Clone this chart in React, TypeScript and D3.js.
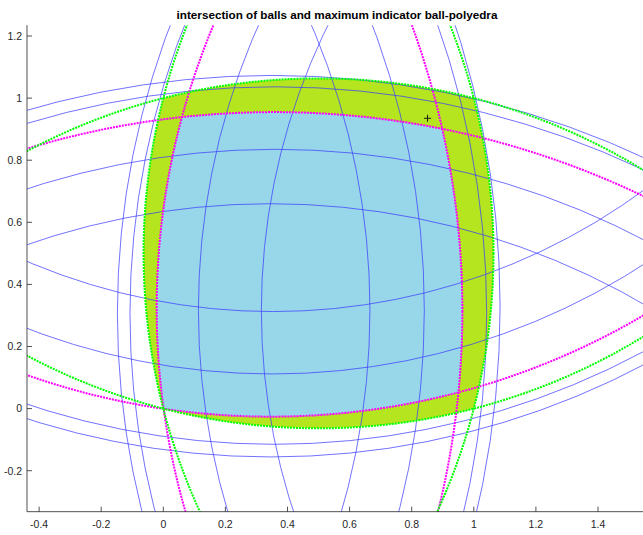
import React from 'react';
import * as d3 from 'd3';

const W = 643;
const H = 535;
const titleText = 'intersection of balls and maximum indicator ball-polyedra';
const xTicks = [-0.4, -0.2, 0, 0.2, 0.4, 0.6, 0.8, 1, 1.2, 1.4];
const yTicks = [-0.2, 0, 0.2, 0.4, 0.6, 0.8, 1, 1.2];
const xTickLabels = ['-0.4', '-0.2', '0', '0.2', '0.4', '0.6', '0.8', '1', '1.2', '1.4'];
const yTickLabels = ['-0.2', '0', '0.2', '0.4', '0.6', '0.8', '1', '1.2'];

// green ball-polygon: vertices and ball radius
const greenVertices = [[0, 0], [1, 0], [1, 1], [0, 1]];
const greenRadius = 2;

// magenta arcs: points read along each arc
const magTop = [[-0.44, 0.836], [-0.139, 0.908], [0.064, 0.94], [0.215, 0.954], [0.505, 0.956], [0.698, 0.932], [0.902, 0.895], [1.342, 0.768], [1.545, 0.69]];
const magBottom = [[-0.44, 0.105], [-0.204, 0.044], [0, 0.001], [0.183, -0.024], [0.505, -0.021], [0.762, 0.012], [0.95, 0.049], [1.12, 0.108], [1.406, 0.221], [1.544, 0.3]];
const magLeft = [[0.161, 1.235], [0.059, 0.94], [0.016, 0.736], [-0.018, 0.4], [-0.016, 0.253], [-0.021, 0.108], [0, 0], [0.032, -0.134], [0.0676, -0.332]];
const magRight = [[0.8, 1.235], [0.838, 1.122], [0.902, 0.895], [0.945, 0.64], [0.959, 0.4], [0.966, 0.253], [0.949, 0.108], [0.95, 0.049], [0.929, -0.134], [0.885, -0.332]];

// blue ball boundaries: points read along each arc
const arcT1 = [[-0.44, 0.961], [0.167, 1.067], [0.4, 1.072], [0.698, 1.053], [1.009, 0.996], [1.342, 0.892], [1.545, 0.811]];
const arcT2 = [[-0.44, 0.921], [0.167, 1.023], [0.698, 1.021], [0.966, 0.967], [1.342, 0.86], [1.545, 0.766]];
const arcB3 = [[-0.44, 0.7095], [-0.139, 0.785], [0.021, 0.811], [0.505, 0.838], [0.698, 0.806], [1.009, 0.747], [1.342, 0.65], [1.545, 0.54]];
const arcB4 = [[-0.44, 0.525], [-0.09, 0.626], [0.345, 0.658], [0.636, 0.64], [1.031, 0.559], [1.203, 0.502], [1.441, 0.395]];
const arcS1 = [[-0.44, 0.473], [0.121, 0.328], [0.319, 0.314], [0.662, 0.337], [0.833, 0.366], [1.031, 0.43], [1.401, 0.607]];
const arcS2 = [[-0.44, 0.253], [-0.139, 0.173], [0.129, 0.124], [0.319, 0.114], [0.505, 0.114], [1.045, 0.221], [1.441, 0.395], [1.544, 0.468]];
const arcB5 = [[-0.439, 0.014], [-0.118, -0.069], [0.166, -0.107], [0.505, -0.117], [0.762, -0.08], [0.853, -0.063], [1.384, 0.108], [1.544, 0.178]];
const arcB6 = [[-0.439, -0.031], [-0.118, -0.115], [0.166, -0.152], [0.762, -0.117], [0.853, -0.107], [1.486, 0.108], [1.544, 0.14]];
const arcVL1 = [[0.0216, 1.235], [-0.113, 0.736], [-0.15, 0.4], [-0.139, 0.253], [-0.139, 0.108], [-0.118, -0.134], [-0.066, -0.332]];
const arcVL2 = [[0.0676, 1.235], [-0.0696, 0.736], [-0.106, 0.4], [-0.107, 0.253], [-0.0966, 0.108], [-0.075, -0.134], [-0.0235, -0.332]];
const arcVa = [[0.306, 1.235], [0.147, 0.736], [0.121, 0.414], [0.118, 0.253], [0.124, 0.124], [0.145, -0.134], [0.213, -0.332]];
const arcVb = [[0.53, 1.235], [0.358, 0.736], [0.344, 0.64], [0.315, 0.414], [0.317, 0.253], [0.327, 0.114], [0.365, -0.134], [0.419, -0.332]];
const arcVc = [[0.477, 1.235], [0.629, 0.736], [0.662, 0.414], [0.655, 0.092], [0.574, -0.332]];
const arcVd = [[0.669, 1.235], [0.741, 1.058], [0.795, 0.8], [0.821, 0.64], [0.833, 0.414], [0.838, 0.253], [0.833, 0.092], [0.805, -0.134], [0.757, -0.332]];
const arcVRa = [[0.885, 1.235], [0.923, 1.122], [0.966, 0.963], [1.009, 0.64], [1.045, 0.4], [1.047, 0.253], [1.03, 0.108], [1.009, -0.134], [0.967, -0.332]];
const arcVRb = [[0.94, 1.235], [1.058, 0.758], [1.075, 0.4], [1.084, 0.253], [1.078, 0.108], [1.052, -0.134], [1.008, -0.332]];

const markerPoint = [0.851, 0.935];

const blueArcs = [arcT1, arcT2, arcB3, arcB4, arcS1, arcS2, arcB5, arcB6, arcVL1, arcVL2, arcVa, arcVb, arcVc, arcVd, arcVRa, arcVRb];
const magentaArcs = [magTop, magRight, magBottom, magLeft];

type Circle = { cx: number; cy: number; r: number };

function det3(m: number[][]) {
  return m[0][0] * (m[1][1] * m[2][2] - m[1][2] * m[2][1])
    - m[0][1] * (m[1][0] * m[2][2] - m[1][2] * m[2][0])
    + m[0][2] * (m[1][0] * m[2][1] - m[1][1] * m[2][0]);
}

// least-squares (Kasa) circle through the read points
function fitCircle(pts: number[][]): Circle {
  let sx = 0, sy = 0, sxx = 0, syy = 0, sxy = 0, sxz = 0, syz = 0, sz = 0;
  const n = pts.length;
  for (const [x, y] of pts) {
    const z = x * x + y * y;
    sx += x; sy += y; sxx += x * x; syy += y * y; sxy += x * y;
    sxz += x * z; syz += y * z; sz += z;
  }
  const M = [[sxx, sxy, sx], [sxy, syy, sy], [sx, sy, n]];
  const b = [-sxz, -syz, -sz];
  const d = det3(M);
  const col = (i: number) => M.map((row, k) => row.map((v, j) => (j === i ? b[k] : v)));
  const D = det3(col(0)) / d;
  const E = det3(col(1)) / d;
  const F = det3(col(2)) / d;
  const cx = -D / 2, cy = -E / 2;
  return { cx, cy, r: Math.sqrt(cx * cx + cy * cy - F) };
}

function ballEdges(verts: number[][], R: number): Circle[] {
  return verts.map((p, i) => {
    const q = verts[(i + 1) % verts.length];
    const mx = (p[0] + q[0]) / 2, my = (p[1] + q[1]) / 2;
    const dx = q[0] - p[0], dy = q[1] - p[1];
    const L = Math.hypot(dx, dy);
    const h = Math.sqrt(R * R - (L / 2) * (L / 2));
    return { cx: mx - (dy / L) * h, cy: my + (dx / L) * h, r: R };
  });
}

const PX = 310.5;
const x0 = 163.3;
const y0 = 408.6;
const xScale = d3.scaleLinear().domain([-0.439, 1.56]).range([x0 - 0.439 * PX, x0 + 1.56 * PX]);
const yScale = d3.scaleLinear().domain([-0.332, 1.235]).range([y0 + 0.332 * PX, y0 - 1.235 * PX]);

export default function App() {
  const greenCircles = ballEdges(greenVertices, greenRadius);
  const magCircles = magentaArcs.map(fitCircle);
  const blueCircles = blueArcs.map(fitCircle);

  const left = xScale(-0.439);
  const right = xScale(1.56);
  const top = yScale(1.235);
  const bottom = yScale(-0.332);
  const rpx = (r: number) => xScale(r) - xScale(0);

  const circ = (c: Circle) => ({ cx: xScale(c.cx), cy: yScale(c.cy), r: rpx(c.r) });

  const nestClip = (prefix: string, count: number, inner: React.ReactNode) => {
    let node = inner;
    for (let i = count - 1; i >= 0; i--) {
      node = <g clipPath={`url(#${prefix}${i})`}>{node}</g>;
    }
    return node;
  };

  const font = 'Liberation Sans, Arial, Helvetica, sans-serif';
  const axisColor = '#262626';

  return (
    <svg width={W} height={H} style={{ position: 'fixed', left: 0, top: 0, background: '#fff' }}>
      <defs>
        <clipPath id="plotArea">
          <rect x={left} y={top} width={right - left} height={bottom - top} />
        </clipPath>
        {greenCircles.map((c, i) => (
          <clipPath id={`gc${i}`} key={`gc${i}`}>
            <circle {...circ(c)} />
          </clipPath>
        ))}
        {magCircles.map((c, i) => (
          <clipPath id={`mc${i}`} key={`mc${i}`}>
            <circle {...circ(c)} />
          </clipPath>
        ))}
      </defs>
      <rect x={0} y={0} width={W} height={H} fill="#fff" />
      <g clipPath="url(#plotArea)">
        {nestClip('gc', greenCircles.length,
          <rect x={left} y={top} width={right - left} height={bottom - top} fill="#b4e51e" />)}
        {nestClip('mc', magCircles.length,
          <rect x={left} y={top} width={right - left} height={bottom - top} fill="#98d7e9" />)}
        {blueCircles.map((c, i) => (
          <circle key={`b${i}`} {...circ(c)} fill="none" stroke="#3a3aff" strokeWidth={0.8} strokeOpacity={0.9} />
        ))}
        {magCircles.map((c, i) => (
          <circle key={`m${i}`} {...circ(c)} fill="none" stroke="#ff00ff" strokeWidth={2} strokeDasharray="2 1" />
        ))}
        {greenCircles.map((c, i) => (
          <circle key={`g${i}`} {...circ(c)} fill="none" stroke="#00ff00" strokeWidth={2} strokeDasharray="2 1" />
        ))}
        <g stroke="#1a1a1a" strokeWidth={1}>
          <line x1={xScale(markerPoint[0]) - 3.5} x2={xScale(markerPoint[0]) + 3.5} y1={yScale(markerPoint[1])} y2={yScale(markerPoint[1])} />
          <line x1={xScale(markerPoint[0])} x2={xScale(markerPoint[0])} y1={yScale(markerPoint[1]) - 3.5} y2={yScale(markerPoint[1]) + 3.5} />
        </g>
      </g>
      {/* axes */}
      <line x1={left} x2={left} y1={top} y2={bottom} stroke={axisColor} strokeWidth={0.8} />
      <line x1={left} x2={W} y1={bottom} y2={bottom} stroke={axisColor} strokeWidth={0.8} />
      {xTicks.map((t, i) => (
        <g key={`xt${i}`}>
          <line x1={xScale(t)} x2={xScale(t)} y1={bottom} y2={bottom - 5} stroke={axisColor} strokeWidth={0.8} />
          <text x={xScale(t)} y={bottom + 16} textAnchor="middle" fontFamily={font} fontSize={10.5} fill={axisColor}>
            {xTickLabels[i]}
          </text>
        </g>
      ))}
      {yTicks.map((t, i) => (
        <g key={`yt${i}`}>
          <line x1={left} x2={left + 5} y1={yScale(t)} y2={yScale(t)} stroke={axisColor} strokeWidth={0.8} />
          <text x={left - 5} y={yScale(t) + 3.8} textAnchor="end" fontFamily={font} fontSize={10.5} fill={axisColor}>
            {yTickLabels[i]}
          </text>
        </g>
      ))}
      <text x={337} y={19} textAnchor="middle" fontFamily={font} fontSize={11.7} fontWeight="bold" fill="#000">
        {titleText}
      </text>
    </svg>
  );
}
